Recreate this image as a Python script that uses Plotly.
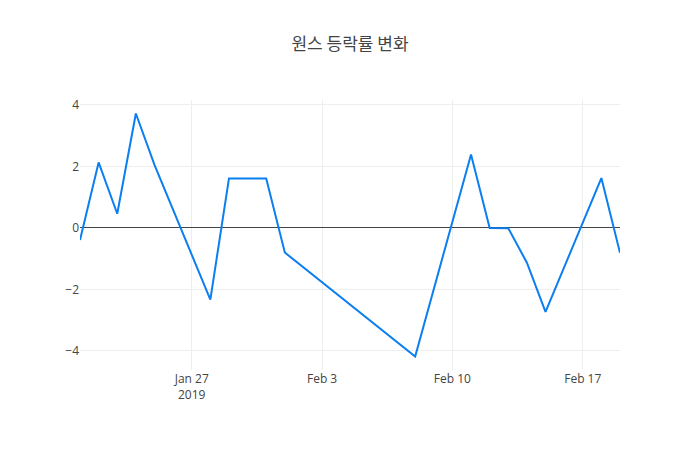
import plotly.graph_objects as go

dates = ["2019-01-21", "2019-01-22", "2019-01-23", "2019-01-24", "2019-01-25",
         "2019-01-28", "2019-01-29", "2019-01-30", "2019-01-31", "2019-02-01",
         "2019-02-08", "2019-02-11", "2019-02-12", "2019-02-13", "2019-02-14",
         "2019-02-15", "2019-02-18", "2019-02-19"]
changes = [-0.39, 2.13, 0.46, 3.72, 2.05,
           -2.33, 1.61, 1.61, 1.61, -0.80,
           -4.18, 2.39, 0.0, -0.01, -1.13,
           -2.73, 1.62, -0.81]

fig = go.Figure()
fig.add_trace(go.Scatter(x=dates, y=changes, mode="lines",
                         line=dict(color="#0b7ef0", width=2)))
fig.update_layout(
    template="none",
    width=700, height=450,
    title=dict(text="원스 등락률 변화", x=0.5, xanchor="center",
               font=dict(size=17, color="#444", family="Noto Sans CJK KR")),
    font=dict(family="Open Sans", color="#444", size=12),
    margin=dict(l=80, r=80, t=100, b=80),
    xaxis=dict(showgrid=True, gridcolor="#eee", zeroline=False),
    yaxis=dict(showgrid=True, gridcolor="#eee", zeroline=True,
               zerolinecolor="#444", zerolinewidth=1),
    showlegend=False,
    paper_bgcolor="white", plot_bgcolor="white",
)
fig.write_html("out.html")
